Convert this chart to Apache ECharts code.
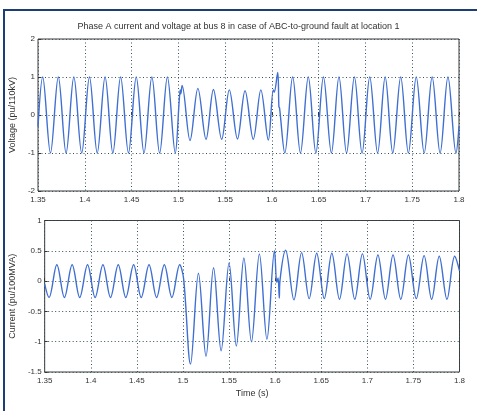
<!DOCTYPE html>
<html>
<head>
<meta charset="utf-8">
<script src="https://cdn.jsdelivr.net/npm/echarts@6/dist/echarts.min.js"></script>
<style>
html,body{margin:0;padding:0;background:#fff;}
#frame{position:absolute;left:3px;top:9px;width:474px;height:402px;border-left:2.5px solid #1d3d76;border-top:2px solid #1d3d76;box-sizing:border-box;}
#chart{position:absolute;left:0;top:0;width:477px;height:411px;}
</style>
</head>
<body>
<div id="frame"></div>
<div id="chart"></div>
<script>
const titleText = 'Phase A current and voltage at bus 8 in case of ABC-to-ground fault at location 1';
const voltageName = 'Voltage (pu/110kV)';
const currentName = 'Current (pu/100MVA)';
const timeName = 'Time (s)';

const voltTime = [1.35,
  1.3550,1.3633,1.3717,1.3800,1.3883,1.3967,1.4050,1.4133,1.4217,1.4300,1.4383,1.4467,1.4550,1.4633,1.4717,1.4800,1.4883,1.4967,
  1.5010,1.5020,1.5027,1.5040,1.5125,1.5209,1.5296,1.5375,1.5463,1.5545,1.5632,1.5713,1.5801,1.5882,1.5962,1.6015,1.6025,1.6062,1.6075,1.6082,1.6138,
  1.6222,1.6305,1.6389,1.6470,1.6551,1.6636,1.6717,1.6798,1.6882,1.6964,1.7046,1.7130,1.7211,1.7292,1.7377,1.7459,1.7543,1.7628,1.7713,1.7798,1.7882,1.7968,
  1.8];
const voltValue = [-0.30,
  1,-1,1,-1,1,-1,1,-1,1,-1,1,-1,1,-1,1,-1,1,-1,
  0.40,0.66,0.56,0.78,-0.67,0.70,-0.64,0.67,-0.64,0.66,-0.63,0.64,-0.64,0.66,-0.66,0.66,0.60,1.12,0.22,0.18,-1.00,
  1,-1,1,-1,1,-1,1,-1,1,-1,1,-1,1,-1,1,-1,1,-1,1,-1,1,-1,
  -0.30];

const currTime = [1.35,
  1.3547,1.3632,1.3714,1.3798,1.3880,1.3965,1.4047,1.4132,1.4214,1.4298,1.4380,1.4465,1.4547,1.4632,1.4714,1.4798,1.4880,1.4965,
  1.5007,1.5082,1.5168,1.5250,1.5332,1.5414,1.5500,1.5579,1.5661,1.5743,1.5829,1.5911,1.5993,1.6018,1.6032,1.6045,1.6052,1.6114,1.6204,
  1.6287,1.6369,1.6451,1.6533,1.6615,1.6698,1.6780,1.6864,1.6947,1.7031,1.7115,1.7197,1.7279,1.7363,1.7446,1.7531,1.7616,1.7698,1.7780,1.7864,1.7948,
  1.8];
const currValue = [-0.05,
  -0.27,0.27,-0.27,0.27,-0.27,0.27,-0.27,0.27,-0.27,0.27,-0.27,0.27,-0.27,0.27,-0.27,0.27,-0.27,0.27,
  0.04,-1.37,0.13,-1.24,0.22,-1.15,0.30,-1.07,0.38,-1.00,0.45,-0.96,0.50,-0.02,0.05,-0.28,0.00,0.51,-0.31,
  0.47,-0.29,0.46,-0.29,0.46,-0.30,0.45,-0.30,0.45,-0.30,0.43,-0.30,0.43,-0.30,0.43,-0.29,0.42,-0.30,0.41,-0.30,0.41,
  0.17];

const xTicks = {min: 1.35, max: 1.8, interval: 0.05};
const voltTicks = {min: -2, max: 2, interval: 1};
const currTicks = {min: -1.5, max: 1, interval: 0.5};

const zip = (a, b) => a.map((t, i) => [t, b[i]]);

const font = 'Liberation Sans, Arial, sans-serif';
const gridDot = {color: '#34505a', type: [1, 2.5], width: 1};
const labelStyle = {color: '#333', fontSize: 8, fontFamily: font};

function xAxis(gridIndex, nameShown) {
  return {
    type: 'value', gridIndex: gridIndex,
    min: xTicks.min, max: xTicks.max, interval: xTicks.interval,
    name: nameShown ? timeName : '', nameLocation: 'middle', nameGap: 17,
    nameTextStyle: {color: '#333', fontSize: 9, fontFamily: font},
    axisLine: {show: false},
    axisTick: {show: true, inside: true, length: 3, lineStyle: {color: '#333'}},
    axisLabel: Object.assign({margin: 5}, labelStyle),
    splitLine: {show: true, lineStyle: gridDot}
  };
}
function yAxis(gridIndex, ticks, name, gap) {
  return {
    type: 'value', gridIndex: gridIndex,
    min: ticks.min, max: ticks.max, interval: ticks.interval,
    name: name, nameLocation: 'middle', nameGap: gap,
    nameTextStyle: {color: '#333', fontSize: 9, fontFamily: font},
    axisLine: {show: false},
    axisTick: {show: true, inside: true, length: 3, lineStyle: {color: '#333'}},
    axisLabel: Object.assign({margin: 3}, labelStyle),
    splitLine: {show: true, lineStyle: gridDot}
  };
}

const chart = echarts.init(document.getElementById('chart'), null, {renderer: 'canvas'});
chart.setOption({
  backgroundColor: 'transparent',
  animation: false,
  title: {
    text: titleText, left: 'center', top: 17,
    textStyle: {color: '#333', fontSize: 9, fontWeight: 'normal', fontFamily: font}
  },
  grid: [
    {left: 33, top: 39, right: 18, height: 152, show: true, borderColor: '#3b3b3b', borderWidth: 1, backgroundColor: 'transparent'},
    {left: 40.5, top: 220.5, right: 17.5, height: 151.5, show: true, borderColor: '#3b3b3b', borderWidth: 1, backgroundColor: 'transparent'}
  ],
  xAxis: [xAxis(0, false), xAxis(1, true)],
  yAxis: [yAxis(0, voltTicks, voltageName, 15), yAxis(1, currTicks, currentName, 21)],
  series: [
    {type: 'line', xAxisIndex: 0, yAxisIndex: 0, data: zip(voltTime, voltValue), smooth: 0.35,
     symbol: 'none', lineStyle: {color: '#3f6fd2', width: 1.4}},
    {type: 'line', xAxisIndex: 1, yAxisIndex: 1, data: zip(currTime, currValue), smooth: 0.35,
     symbol: 'none', lineStyle: {color: '#3f6fd2', width: 1.4}}
  ]
});
</script>
</body>
</html>
